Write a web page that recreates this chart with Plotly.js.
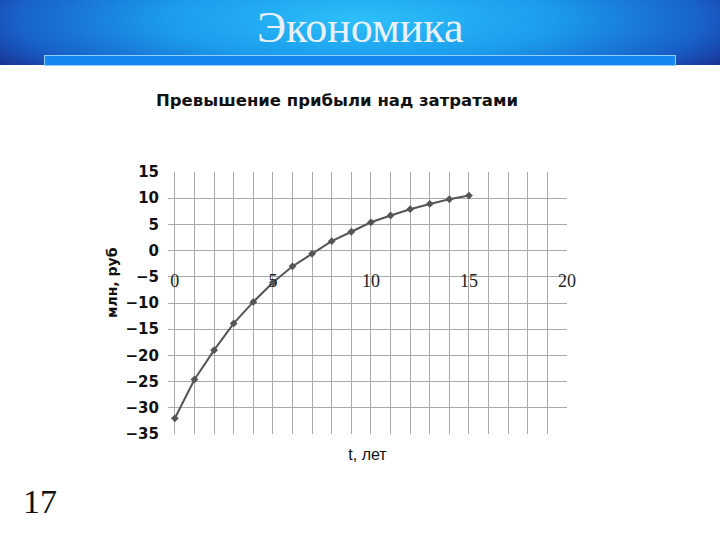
<!DOCTYPE html>
<html>
<head>
<meta charset="utf-8">
<script src="https://cdn.plot.ly/plotly-3.0.1.min.js"></script>
<style>
  html, body { margin: 0; padding: 0; background: #fff; }
  #slide { position: relative; width: 720px; height: 540px; overflow: hidden; }
  #header {
    position: absolute; left: 0; top: 0; width: 720px; height: 65px;
    background: radial-gradient(ellipse 60% 140% at 50% 30%, #2cc0fa 0%, #1b9cec 45%, #1860c8 80%, #1a2a8c 100%);
  }
  #band {
    position: absolute; left: 44px; top: 55px; width: 630px; height: 9px;
    background: #1686f2; border: 1px solid #8fd0fb;
  }
  #plot { position: absolute; left: 0; top: 0; width: 720px; height: 540px; }
</style>
</head>
<body>
<div id="slide">
  <div id="header"></div>
  <div id="band"></div>
  <div id="plot"></div>
</div>
<script>
// годы и превышение прибыли над затратами, млн руб
const years = [0, 1, 2, 3, 4, 5, 6, 7, 8, 9, 10, 11, 12, 13, 14, 15];
const excess = [-32.0, -24.6, -19.0, -13.9, -9.8, -6.1, -3.0, -0.6, 1.8, 3.6, 5.4, 6.7, 7.9, 8.9, 9.8, 10.5];

const xTickVals = [0, 5, 10, 15, 20];
const yTickVals = [15, 10, 5, 0, -5, -10, -15, -20, -25, -30, -35];

const gridColor = '#a9a9a9';

const trace = {
    x: years,
    y: excess,
    type: 'scatter',
    mode: 'lines+markers',
    line: { color: '#555555', width: 2 },
    marker: { color: '#555555', size: 6, symbol: 'diamond' },
    hoverinfo: 'x+y'
};

// пустой след для второй оси (подписи лет посередине поля)
const labelTrace = {
    x: [xTickVals[0]], y: [0], xaxis: 'x2', yaxis: 'y',
    type: 'scatter', mode: 'markers', marker: { opacity: 0 }, hoverinfo: 'skip'
};

const layout = {
    width: 720,
    height: 540,
    paper_bgcolor: 'rgba(0,0,0,0)',
    plot_bgcolor: 'rgba(0,0,0,0)',
    margin: { t: 172, b: 106, l: 168, r: 153 },
    showlegend: false,
    font: { family: 'Liberation Sans, Arial, sans-serif', color: '#000' },
    xaxis: {
        range: [-0.35, 20],
        dtick: 1,
        tick0: 0,
        showticklabels: false,
        ticks: '',
        showgrid: true,
        gridcolor: gridColor,
        gridwidth: 1,
        zeroline: false,
        showline: false,
        title: { text: 't, лет', font: { size: 16, family: 'Liberation Sans, Arial, sans-serif', color: '#111' }, standoff: 14 }
    },
    xaxis2: {
        overlaying: 'x',
        matches: 'x',
        anchor: 'free',
        position: 0.635,
        tickmode: 'array',
        tickvals: xTickVals,
        ticks: '',
        showgrid: false,
        zeroline: false,
        showline: false,
        tickfont: { family: 'Liberation Serif, Times New Roman, serif', size: 18, color: '#222' }
    },
    yaxis: {
        range: [-35, 15],
        tickmode: 'array',
        tickvals: yTickVals,
        ticks: '',
        showgrid: true,
        gridcolor: gridColor,
        gridwidth: 1,
        zeroline: false,
        showline: false,
        ticklabelstandoff: 8,
        tickfont: { family: 'DejaVu Sans, sans-serif', size: 15, color: '#111', weight: 'bold' }
    },
    annotations: [
        {
            text: 'Экономика', showarrow: false,
            font: { family: 'Liberation Serif, Times New Roman, serif', size: 44, color: '#e9f1f8' }
        },
        {
            text: '<b>Превышение прибыли над затратами</b>', showarrow: false,
            font: { family: 'DejaVu Sans, sans-serif', size: 16.5, color: '#111' }
        },
        {
            text: '<b>млн, руб</b>', textangle: -90, showarrow: false,
            font: { family: 'DejaVu Sans, sans-serif', size: 14, color: '#111' }
        },
        {
            text: '17', showarrow: false,
            font: { family: 'Liberation Serif, Times New Roman, serif', size: 34, color: '#111' }
        }
    ]
};

// перевод пикселей слайда в доли бумаги
const pw = 720 - layout.margin.l - layout.margin.r;
const ph = 540 - layout.margin.t - layout.margin.b;
function place(a, px, py) {
    a.xref = 'paper'; a.yref = 'paper';
    a.x = (px - layout.margin.l) / pw;
    a.y = (540 - layout.margin.b - py) / ph;
    a.xanchor = 'center'; a.yanchor = 'middle';
}
place(layout.annotations[0], 360, 27);
place(layout.annotations[1], 337, 101);
place(layout.annotations[2], 112, 283);
place(layout.annotations[3], 40, 501);

Plotly.newPlot('plot', [trace, labelTrace], layout, { displayModeBar: false, staticPlot: true });
</script>
</body>
</html>
